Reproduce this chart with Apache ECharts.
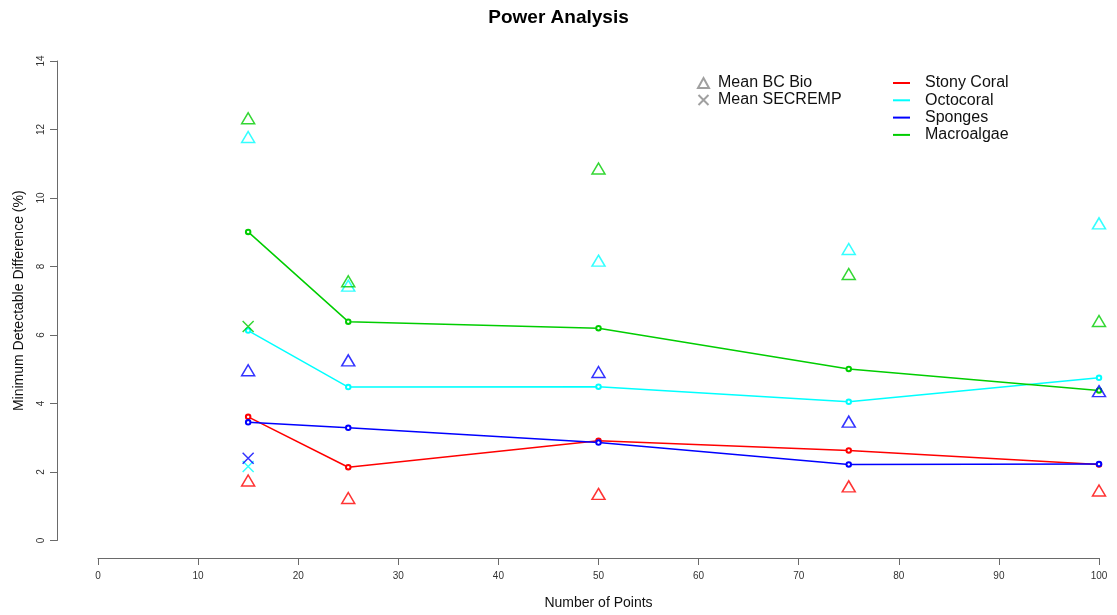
<!DOCTYPE html>
<html>
<head>
<meta charset="utf-8">
<title>Power Analysis</title>
<script src="https://cdn.jsdelivr.net/npm/echarts@6/dist/echarts.min.js"></script>
<style>
  html, body { margin: 0; padding: 0; background: #fff; }
  #chart { width: 1117px; height: 615px; }
</style>
</head>
<body>
<div id="chart"></div>
<script>
// Number of points scored per image
const pointCounts = [15, 25, 50, 75, 100];

// Minimum detectable difference (%) along each group's curve
const stonyCoralMDD = [3.61, 2.14, 2.91, 2.63, 2.22];
const octocoralMDD = [6.13, 4.48, 4.49, 4.05, 4.75];
const spongesMDD = [3.45, 3.29, 2.86, 2.22, 2.23];
const macroalgaeMDD = [9.01, 6.39, 6.20, 5.01, 4.38];

// Mean BC Bio values at each point count
const stonyCoralBCBio = [1.75, 1.24, 1.36, 1.58, 1.46];
const octocoralBCBio = [11.78, 7.44, 8.17, 8.51, 9.26];
const spongesBCBio = [4.97, 5.26, 4.92, 3.47, 4.36];
const macroalgaeBCBio = [12.33, 7.57, 10.86, 7.78, 6.41];

// Mean SECREMP values (sampled at 15 points only)
const secrempPointCount = 15;
const octocoralSECREMP = 2.16;
const spongesSECREMP = 2.40;
const macroalgaeSECREMP = 6.25;

// Axis ticks
const xTicks = { min: 0, max: 100, step: 10 };
const yTicks = { min: 0, max: 14, step: 2 };

const groups = [
  { name: 'Stony Coral', color: '#ff0000', curve: stonyCoralMDD, bc: stonyCoralBCBio, sec: null },
  { name: 'Octocoral', color: '#00ffff', curve: octocoralMDD, bc: octocoralBCBio, sec: octocoralSECREMP },
  { name: 'Sponges', color: '#0000ff', curve: spongesMDD, bc: spongesBCBio, sec: spongesSECREMP },
  { name: 'Macroalgae', color: '#00cd00', curve: macroalgaeMDD, bc: macroalgaeBCBio, sec: macroalgaeSECREMP }
];

const crossPath = 'path://M0,0L10,10M10,0L0,10';
const axisGray = '#6a6a6a';
const textFont = "'Liberation Sans', Arial, sans-serif";
const narrowFont = "'Liberation Sans Narrow', 'Liberation Sans', Arial, sans-serif";

const pair = (xs, ys) => xs.map((x, i) => [x, ys[i]]);

const series = [];

// Curves with small open circles
groups.forEach(g => {
  series.push({
    name: g.name,
    type: 'line',
    data: pair(pointCounts, g.curve),
    symbol: 'emptyCircle',
    symbolSize: 4.5,
    showSymbol: true,
    lineStyle: { color: g.color, width: 1.5 },
    itemStyle: { color: g.color, borderWidth: 1 },
    z: 2,
    silent: true
  });
});

// Open triangles: Mean BC Bio
groups.forEach(g => {
  series.push({
    name: g.name + ' BC Bio',
    type: 'scatter',
    data: pair(pointCounts, g.bc),
    symbol: 'triangle',
    symbolSize: [13, 11],
    itemStyle: { color: 'rgba(0,0,0,0)', borderColor: g.color, borderWidth: 1.5 },
    z: 3,
    silent: true
  });
});

// Crosses: Mean SECREMP
groups.filter(g => g.sec !== null).forEach(g => {
  series.push({
    name: g.name + ' SECREMP',
    type: 'scatter',
    data: [[secrempPointCount, g.sec]],
    symbol: crossPath,
    symbolSize: 11,
    itemStyle: { color: 'rgba(0,0,0,0)', borderColor: g.color, borderWidth: 1.5 },
    z: 3,
    silent: true
  });
});

// Legend-only entries for the marker key
series.push({
  name: 'Mean BC Bio', type: 'scatter', data: [],
  symbol: 'triangle', symbolSize: [10, 9],
  itemStyle: { color: 'rgba(0,0,0,0)', borderColor: '#888', borderWidth: 1 }
});
series.push({
  name: 'Mean SECREMP', type: 'scatter', data: [],
  symbol: crossPath, symbolSize: 8,
  itemStyle: { color: 'rgba(0,0,0,0)', borderColor: '#888', borderWidth: 1 }
});

const chart = echarts.init(document.getElementById('chart'), null, { renderer: 'canvas' });

chart.setOption({
  animation: false,
  backgroundColor: '#ffffff',
  title: {
    text: 'Power Analysis',
    left: 'center',
    top: 3,
    textStyle: { fontFamily: textFont, fontSize: 19, fontWeight: 'bold', color: '#000' }
  },
  grid: { left: 98, right: 18, top: 61, bottom: 72.5 },
  legend: [
    {
      data: ['Mean BC Bio', 'Mean SECREMP'],
      orient: 'vertical',
      left: 697,
      top: 75,
      padding: 0,
      itemWidth: 11,
      itemHeight: 10,
      itemGap: 1,
      selectedMode: false,
      textStyle: { fontFamily: textFont, fontSize: 16, color: '#111', lineHeight: 16, padding: [0, 0, 0, 4] }
    },
    {
      data: groups.map(g => g.name),
      orient: 'vertical',
      left: 893,
      top: 75,
      padding: 0,
      icon: 'rect',
      itemWidth: 17,
      itemHeight: 2,
      itemGap: 1.3,
      selectedMode: false,
      textStyle: { fontFamily: textFont, fontSize: 16, color: '#111', lineHeight: 16, padding: [0, 0, 0, 10] }
    }
  ],
  xAxis: {
    type: 'value',
    min: xTicks.min,
    max: xTicks.max,
    interval: xTicks.step,
    offset: 17.5,
    name: 'Number of Points',
    nameLocation: 'middle',
    nameGap: 38,
    nameTextStyle: { fontFamily: narrowFont, fontSize: 14, color: '#111' },
    axisLine: { show: true, onZero: false, lineStyle: { color: axisGray, width: 1 } },
    axisTick: { show: true, length: 7, lineStyle: { color: axisGray } },
    axisLabel: { margin: 13, fontFamily: narrowFont, fontSize: 10, color: '#333' },
    splitLine: { show: false }
  },
  yAxis: {
    type: 'value',
    min: yTicks.min,
    max: yTicks.max,
    interval: yTicks.step,
    offset: 41,
    name: 'Minimum Detectable Difference (%)',
    nameLocation: 'middle',
    nameGap: 31,
    nameRotate: 90,
    nameTextStyle: { fontFamily: textFont, fontSize: 14, color: '#111' },
    axisLine: { show: true, onZero: false, lineStyle: { color: axisGray, width: 1 } },
    axisTick: { show: true, length: 7, lineStyle: { color: axisGray } },
    axisLabel: { margin: 11, rotate: 90, fontFamily: narrowFont, fontSize: 10, color: '#333' },
    splitLine: { show: false }
  },
  series: series
});
</script>
</body>
</html>
